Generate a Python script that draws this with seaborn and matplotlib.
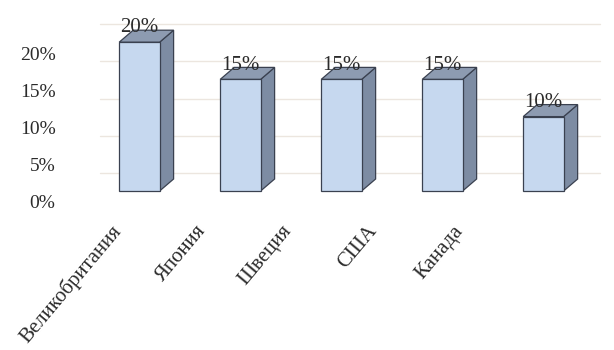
import numpy as np
import matplotlib
matplotlib.use("Agg")
import matplotlib.pyplot as plt
import matplotlib.transforms as mtransforms
from matplotlib.patches import Polygon
import seaborn as sns

# Data
countries = ["Великобритания", "Япония", "Швеция", "США", "Канада"]
shares = [20, 15, 15, 15, 10]
yticks = [0, 5, 10, 15, 20]
ytick_labels = ["0%", "5%", "10%", "15%", "20%"]

sns.set_style("white")
plt.rcParams["font.family"] = ["Liberation Serif", "DejaVu Serif"]

front_col = "#c6d8ef"
side_col = "#7d8ca3"
top_col = "#8d9bb1"
edge_col = "#3a4150"
text_col = "#2b2b2b"

fig = plt.figure(figsize=(6.14, 3.5), dpi=100)
ax = fig.add_axes([100 / 614, 159 / 350, 500 / 614, 186 / 350])

sns.barplot(x=countries, y=shares, width=0.4, color=front_col, saturation=1,
            edgecolor=edge_col, linewidth=0.9, ax=ax, zorder=3)

ax.set_xlim(-0.39, 4.56)
ax.set_ylim(0, 25)

# depth of the fake 3D boxes, in pixels -> data units
p0 = ax.transData.transform((0, 0))
p1 = ax.transData.transform((1, 1))
dx = 14 / (p1[0] - p0[0])
dy = 12 / (p1[1] - p0[1])

# faint back-wall gridlines
grid_off = mtransforms.ScaledTranslation(0, 18 / 100, fig.dpi_scale_trans)
for v in yticks:
    ax.plot([-0.39, 4.56], [v, v], color="#ece6df", lw=1.0, zorder=1,
            transform=ax.transData + grid_off, clip_on=False)

for p, v in zip(list(ax.patches), shares):
    p.set_clip_on(False)
    x0, w, h = p.get_x(), p.get_width(), p.get_height()
    side = Polygon([(x0 + w, 0), (x0 + w + dx, dy), (x0 + w + dx, h + dy), (x0 + w, h)],
                   closed=True, facecolor=side_col, edgecolor=edge_col, lw=0.9, zorder=2,
                   clip_on=False)
    top = Polygon([(x0, h), (x0 + dx, h + dy), (x0 + w + dx, h + dy), (x0 + w, h)],
                  closed=True, facecolor=top_col, edgecolor=edge_col, lw=0.9, zorder=2,
                  clip_on=False)
    ax.add_patch(side)
    ax.add_patch(top)
    ax.text(x0 + w / 2, h + dy - 0.3, f"{v}%", ha="center", va="baseline",
            fontsize=15, color=text_col, zorder=4)

ax.set_yticks(yticks)
ax.set_yticklabels(ytick_labels, fontsize=14, color=text_col)
ax.tick_params(axis="y", length=0, pad=32)
down = mtransforms.ScaledTranslation(0, -11 / 100, fig.dpi_scale_trans)
for lab in ax.get_yticklabels():
    lab.set_transform(lab.get_transform() + down)

ax.set_xticks(range(len(countries)))
ax.set_xticklabels(countries, rotation=50, ha="right", rotation_mode="anchor",
                   fontsize=15, color=text_col)
ax.tick_params(axis="x", length=0, pad=22)
for i, lab in enumerate(ax.get_xticklabels()):
    shift = mtransforms.ScaledTranslation(-(29 + 15.5 * i) / 100, 0, fig.dpi_scale_trans)
    lab.set_transform(lab.get_transform() + shift)

ax.set_xlabel("")
ax.set_ylabel("")
sns.despine(ax=ax, left=True, bottom=True)

fig.savefig("out.png", dpi=100, facecolor="white")
